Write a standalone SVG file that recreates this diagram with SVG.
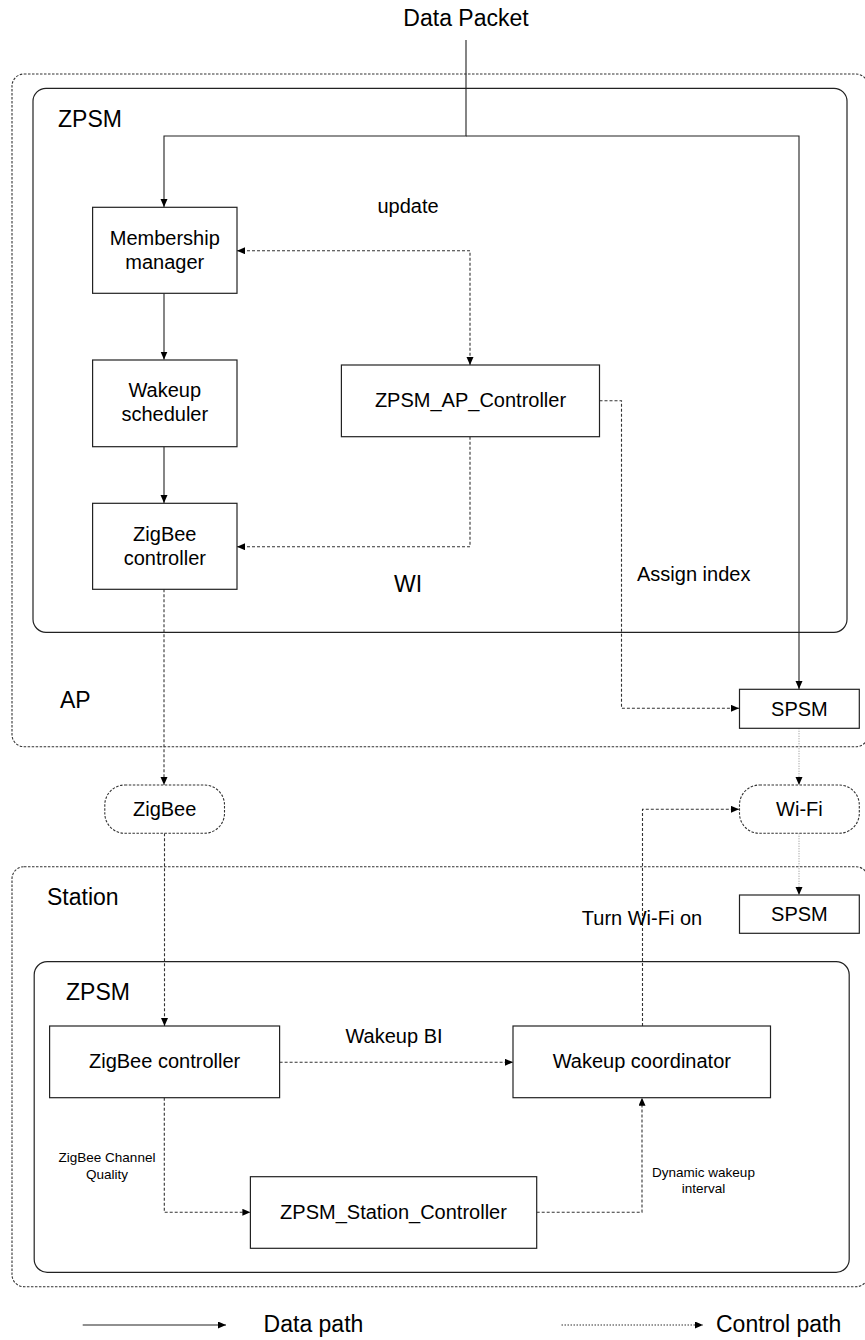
<svg xmlns="http://www.w3.org/2000/svg" width="865" height="1340" viewBox="0 0 865 1340">
<style>
text{font-family:"Liberation Sans",Arial,sans-serif;fill:#000}
.big{font-size:23px}
.lbl{font-size:20px;text-anchor:middle}
.sm{font-size:13.5px;text-anchor:middle}
.box{fill:#fff;stroke:#222;stroke-width:1.2}
.frame{fill:none;stroke:#222;stroke-width:1.2}
.dframe{fill:none;stroke:#333;stroke-width:1.1;stroke-dasharray:2.5,1.5}
.cloud{fill:#fff;stroke:#333;stroke-width:1.1;stroke-dasharray:2.5,1.5}
.data{fill:none;stroke:#222;stroke-width:1.1;marker-end:url(#ah)}
.ctrl{fill:none;stroke:#333;stroke-width:1.1;stroke-dasharray:3,2;marker-end:url(#ah)}
.dot{fill:none;stroke:#999;stroke-width:1.1;stroke-dasharray:1,1.5;marker-end:url(#ah)}
</style>
<defs>
<marker id="ah" markerUnits="userSpaceOnUse" markerWidth="9" markerHeight="8" refX="8" refY="3.5" orient="auto-start-reverse">
<path d="M0,0 L8,3.5 L0,7 z" fill="#000"/>
</marker>
</defs>
<rect width="865" height="1340" fill="#fff"/>

<g id="ap-frame">
<rect class="dframe" x="12" y="74" width="856" height="672.7" rx="12"/>
<text class="big" x="60" y="708">AP</text>
</g>
<g id="ap-zpsm">
<rect class="frame" x="33" y="88.3" width="814" height="544" rx="13"/>
<text class="big" x="58" y="126.5">ZPSM</text>
</g>
<g id="station-frame">
<rect class="dframe" x="12" y="866.7" width="856" height="420" rx="12"/>
<text class="big" x="47" y="905">Station</text>
</g>
<g id="station-zpsm">
<rect class="frame" x="34.2" y="961.7" width="815" height="310.6" rx="13"/>
<text class="big" x="66" y="1000">ZPSM</text>
</g>

<g id="connectors">
<path class="data" d="M466,40 V136 H164 V207"/>
<path class="data" d="M466,136 H799 V689"/>
<path class="data" d="M164,293.3 V359.5"/>
<path class="data" d="M164,446.7 V503"/>
<path class="ctrl" style="marker-start:url(#ah)" d="M237,250.7 H470 V365"/>
<path class="ctrl" d="M470,436.7 V546.7 H237"/>
<path class="ctrl" d="M599.5,400.7 H621.5 V708.3 H739"/>
<path class="ctrl" d="M164,589.3 V785"/>
<path class="ctrl" d="M164.5,833.3 V1026"/>
<path class="ctrl" d="M279.6,1062.3 H513"/>
<path class="ctrl" d="M164.3,1097.7 V1212.3 H250.4"/>
<path class="ctrl" d="M536.7,1212.3 H642 V1097.7"/>
<path class="ctrl" d="M642.5,1026 V809.3 H739"/>
<path class="dot" d="M799,728.3 V785"/>
<path class="dot" d="M799,833.3 V895"/>
</g>

<g id="labels">
<text class="big" x="466" y="26" text-anchor="middle">Data Packet</text>
<text class="lbl" x="408" y="213">update</text>
<text class="big" x="408" y="592" text-anchor="middle">WI</text>
<text x="637" y="581" style="font-size:20px">Assign index</text>
<text class="lbl" x="642" y="925">Turn Wi-Fi on</text>
<text class="lbl" x="394" y="1043.3">Wakeup BI</text>
<text class="sm" x="107" y="1162.3">ZigBee Channel</text>
<text class="sm" x="107" y="1178.5">Quality</text>
<text class="sm" x="703.5" y="1176.7">Dynamic wakeup</text>
<text class="sm" x="703.5" y="1193.3">interval</text>
</g>

<g id="membership-manager">
<rect class="box" x="92.6" y="207.3" width="144.4" height="86"/>
<text class="lbl" x="164.8" y="245">Membership</text>
<text class="lbl" x="164.8" y="269">manager</text>
</g>
<g id="wakeup-scheduler">
<rect class="box" x="92.6" y="360" width="144.4" height="86.7"/>
<text class="lbl" x="164.8" y="397">Wakeup</text>
<text class="lbl" x="164.8" y="421">scheduler</text>
</g>
<g id="ap-zigbee-controller">
<rect class="box" x="92.6" y="503.3" width="144.4" height="86"/>
<text class="lbl" x="164.8" y="541">ZigBee</text>
<text class="lbl" x="164.8" y="565">controller</text>
</g>
<g id="zpsm-ap-controller">
<rect class="box" x="341.4" y="365" width="258.1" height="71.7"/>
<text class="lbl" x="470.5" y="407">ZPSM_AP_Controller</text>
</g>
<g id="ap-spsm">
<rect class="box" x="739.5" y="689.3" width="119.8" height="39"/>
<text class="lbl" x="799.4" y="715.5">SPSM</text>
</g>
<g id="zigbee-channel">
<rect class="cloud" x="104.8" y="785" width="119.7" height="48.3" rx="20"/>
<text class="lbl" x="164.7" y="816">ZigBee</text>
</g>
<g id="wifi-channel">
<rect class="cloud" x="739.5" y="785" width="119.8" height="48.3" rx="20"/>
<text class="lbl" x="799.4" y="816">Wi-Fi</text>
</g>
<g id="station-spsm">
<rect class="box" x="739.5" y="895" width="119.8" height="38.3"/>
<text class="lbl" x="799.4" y="921">SPSM</text>
</g>
<g id="station-zigbee-controller">
<rect class="box" x="49.6" y="1026" width="230" height="71.7"/>
<text class="lbl" x="164.6" y="1068">ZigBee controller</text>
</g>
<g id="wakeup-coordinator">
<rect class="box" x="513" y="1026" width="257.5" height="71.7"/>
<text class="lbl" x="641.8" y="1068">Wakeup coordinator</text>
</g>
<g id="zpsm-station-controller">
<rect class="box" x="250.4" y="1176.7" width="286.3" height="71.6"/>
<text class="lbl" x="393.5" y="1218.5">ZPSM_Station_Controller</text>
</g>

<g id="legend">
<path class="data" d="M82.7,1325 H226"/>
<text class="big" x="263.6" y="1332">Data path</text>
<path class="ctrl" style="stroke-dasharray:1.5,1.5" d="M561.5,1325 H703"/>
<text class="big" x="716" y="1332">Control path</text>
</g>
</svg>
